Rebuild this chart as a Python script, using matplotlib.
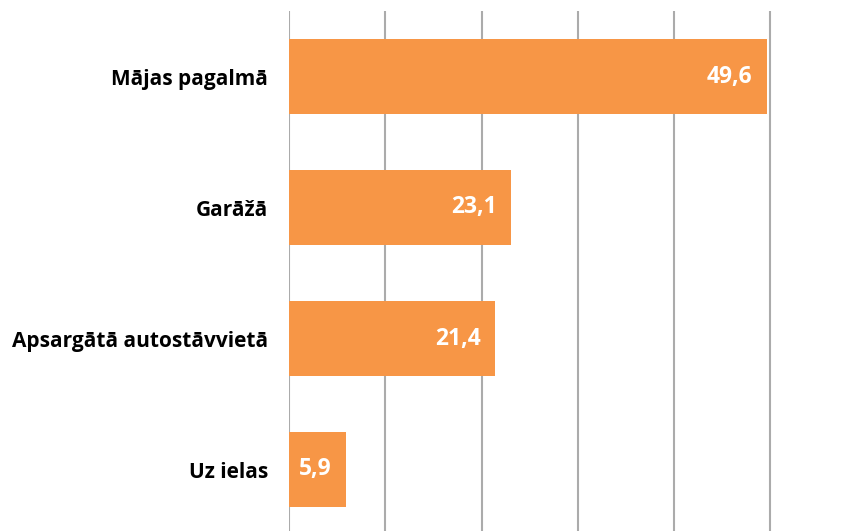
import matplotlib
matplotlib.use("Agg")
import matplotlib.pyplot as plt

categories = ["Mājas pagalmā", "Garāžā", "Apsargātā autostāvvietā", "Uz ielas"]
values = [49.6, 23.1, 21.4, 5.9]
value_labels = ["49,6", "23,1", "21,4", "5,9"]

W, H = 857, 531
fig = plt.figure(figsize=(W / 100, H / 100), dpi=100)
ax = fig.add_axes([289 / W, -4 / H, (W - 289) / W, 524 / H])

pos = list(range(len(categories)))
ax.barh(pos, values, height=0.565, color="#F79646", zorder=2)
ax.set_ylim(len(categories) - 0.5, -0.5)
ax.set_xlim(0, 59)
ax.set_xticks([0, 10, 20, 30, 40, 50])
ax.xaxis.grid(True, color="#ababab", linewidth=1.5, zorder=0)
ax.tick_params(axis="x", length=0, labelbottom=False)
ax.set_yticks(pos)
ax.set_yticklabels(categories, fontsize=15, fontweight="bold", family="Open Sans")
ax.tick_params(axis="y", length=0, pad=15)
for s in ax.spines.values():
    s.set_visible(False)

for p, v, lab in zip(pos, values, value_labels):
    ax.annotate(lab, (v, p), xytext=(-14, 0), textcoords="offset pixels",
                ha="right", va="center", color="white", fontsize=16.5,
                fontweight="bold", family="Open Sans", zorder=3)

fig.savefig("out.png", dpi=100)
